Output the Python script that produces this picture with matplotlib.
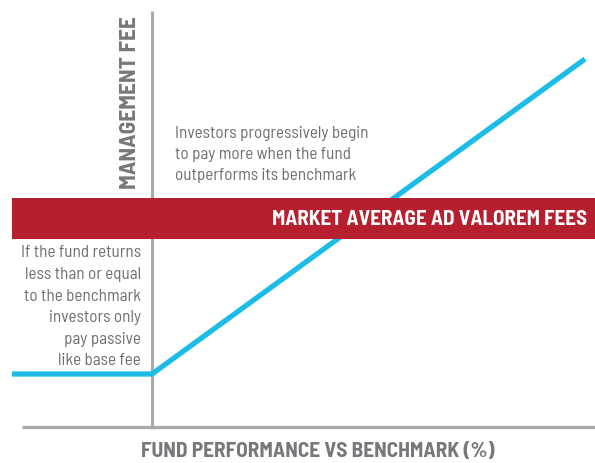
import matplotlib
matplotlib.use("Agg")
import matplotlib.pyplot as plt
from matplotlib import font_manager as fm

# ---- data (conceptual units) ----
performance = [-7.0, 0.0, 21.65]        # fund performance vs benchmark (%)
fee = [2.65, 2.65, 18.4]                # management fee level
band_range = (9.4, 11.45)               # market average ad valorem fees band
band_label = "MARKET AVERAGE AD VALOREM FEES"
x_label = "FUND PERFORMANCE VS BENCHMARK (%)"
y_label = "MANAGEMENT FEE"
note_right = "Investors progressively begin\nto pay more when the fund\noutperforms its benchmark"
note_left = ("If the fund returns\nless than or equal\nto the benchmark\n"
             "investors only\npay passive\nlike base fee")

names = {f.name for f in fm.fontManager.ttflist}
narrow = "Barlow Semi Condensed" if "Barlow Semi Condensed" in names else "DejaVu Sans"

CYAN = "#1CBCE6"
RED = "#B61F2E"
GRAY = "#A7A9AC"
DGRAY = "#77787B"
TGRAY = "#6D6E71"

fig = plt.figure(figsize=(5.95, 4.64), dpi=100)
ax = fig.add_axes([0, 0, 1, 1])
ax.set_xlim(-7.6, 22.15)
ax.set_ylim(-1.8, 21.4)
ax.axis("off")

# axes lines
ax.plot([0, 0], [0, 20.8], color=GRAY, lw=2.2, solid_capstyle="butt", zorder=1)
ax.plot([-6.5, 22.15], [0, 0], color=GRAY, lw=2.4, solid_capstyle="butt", zorder=1)

# fee line
ax.plot(performance, fee, color=CYAN, lw=3.8, solid_capstyle="butt",
        solid_joinstyle="miter", zorder=2)

# band
ax.fill_between([-7.0, 22.15], band_range[0], band_range[1], color=RED, lw=0, zorder=3)
ax.text(21.75, sum(band_range) / 2, band_label, color="white", fontsize=15.1,
        fontweight="bold", family=narrow, ha="right", va="center", zorder=4)

# texts
ax.text(-1.1, 20.6, y_label, rotation=90, color=DGRAY, fontsize=16.8,
        fontweight="bold", family=narrow, ha="center", va="top")
ax.text(8.27, -1.2, x_label, color=DGRAY, fontsize=15.4, fontweight="bold",
        family=narrow, ha="center", va="center")
ax.text(1.15, 13.65, note_right, color=TGRAY, fontsize=12.3, family=narrow,
        ha="left", va="center", linespacing=1.5)
ax.text(-0.55, 6.05, note_left, color=TGRAY, fontsize=12.3, family=narrow,
        ha="right", va="center", linespacing=1.55)

fig.savefig("out.png", dpi=100)
